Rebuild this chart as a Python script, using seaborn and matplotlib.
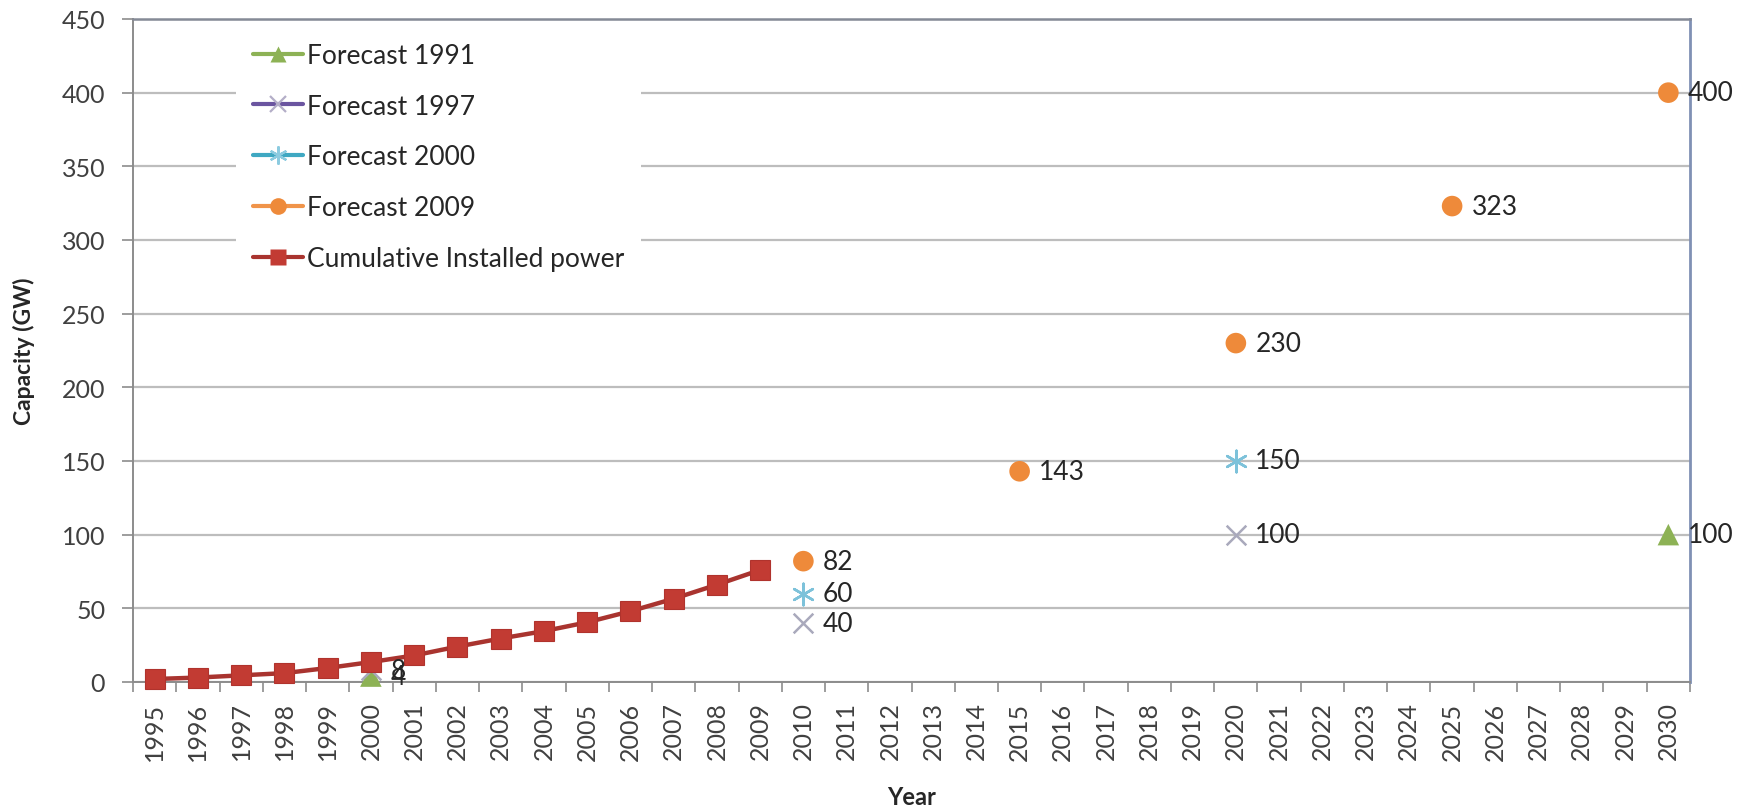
import matplotlib
matplotlib.use("Agg")
import matplotlib.pyplot as plt
from matplotlib.lines import Line2D
from matplotlib.ticker import MultipleLocator
import seaborn as sns
import pandas as pd

# ---- data -------------------------------------------------------------
years_axis = list(range(1995, 2031))

installed_years = list(range(1995, 2010))
installed_gw = [2, 3, 4.5, 6, 9.5, 13.5, 18, 24, 29.5, 34.5, 40.5, 48, 56.5, 66, 76]

f1991_years = [2000, 2030]
f1991_gw = [4, 100]

f1997_years = [2000, 2010, 2020]
f1997_gw = [8, 40, 100]

f2000_years = [2010, 2020]
f2000_gw = [60, 150]

f2009_years = [2010, 2015, 2020, 2025, 2030]
f2009_gw = [82, 143, 230, 323, 400]

series_names = ["Forecast 1991", "Forecast 1997", "Forecast 2000",
                "Forecast 2009", "Cumulative Installed power"]

# ---- style ------------------------------------------------------------
sns.set_theme(style="white")
plt.rcParams["font.family"] = ["Lato", "DejaVu Sans"]
text_col = "#262626"
grid_col = "#BDBDBD"

fig = plt.figure(figsize=(17.41, 8.12), dpi=100)
ax = fig.add_axes([0.0764, 0.1589, 0.8943, 0.8165])

ax.set_xlim(1994.5, 2030.5)
ax.set_ylim(0, 450)
ax.yaxis.set_major_locator(MultipleLocator(50))
ax.grid(axis="y", color=grid_col, lw=1.6, zorder=0)
ax.set_axisbelow(True)

# forecast points (unconnected)
sns.scatterplot(x=f1991_years, y=f1991_gw, marker="^", s=240, color="#8DB255",
                edgecolor="none", ax=ax, zorder=3, legend=False, clip_on=False)
sns.scatterplot(x=f1997_years, y=f1997_gw, marker="x", s=200, color="#A9A9BC",
                linewidth=1.8, ax=ax, zorder=3, legend=False)
sns.scatterplot(x=f2000_years, y=f2000_gw, marker=(6, 2, 0), s=240, color="#7DC2DA",
                linewidth=1.8, ax=ax, zorder=3, legend=False)
sns.scatterplot(x=f2009_years, y=f2009_gw, marker="o", s=220, color="#EE8A3A",
                edgecolor="none", ax=ax, zorder=3, legend=False, clip_on=False)

# installed capacity line
hist = pd.DataFrame({"year": installed_years, "gw": installed_gw})
sns.lineplot(data=hist, x="year", y="gw", color="#A9342F", lw=3.2, ax=ax,
             marker="s", markersize=15, markerfacecolor="#C23B33",
             markeredgecolor="#B0332D", markeredgewidth=0.8, zorder=4,
             clip_on=False)

# data labels beside forecast points
for xs, ys in [(f1991_years, f1991_gw), (f1997_years, f1997_gw),
               (f2000_years, f2000_gw), (f2009_years, f2009_gw)]:
    for x, y in zip(xs, ys):
        ax.annotate(f"{y:g}", (x, y), xytext=(14, 0), textcoords="offset points",
                    ha="left", va="center", fontsize=19, color=text_col,
                    zorder=6, annotation_clip=False)

# axes, ticks
ax.set_xticks(years_axis)
ax.set_xticklabels([str(y) for y in years_axis], rotation=90, fontsize=18,
                   color="#404040")
ax.set_xticks([y + 0.5 for y in [years_axis[0] - 1] + years_axis], minor=True)
ax.tick_params(axis="x", which="major", length=0, pad=14)
ax.tick_params(axis="x", which="minor", length=7, width=1.2, color="#8C8C8C",
               direction="out", bottom=True)
ax.tick_params(axis="y", which="major", length=8, width=1.2, color="#8C8C8C",
               direction="out", left=True, pad=12, labelsize=18, labelcolor="#404040")

for side in ["left", "bottom"]:
    ax.spines[side].set_color("#8C8C8C")
    ax.spines[side].set_linewidth(1.4)
ax.spines["top"].set_color("#858A96")
ax.spines["top"].set_linewidth(1.8)
ax.spines["right"].set_color("#8090B4")
ax.spines["right"].set_linewidth(2.0)

ax.set_xlabel("Year", fontsize=17, fontweight="bold", color=text_col, labelpad=18)
ax.set_ylabel("Capacity (GW)", fontsize=16.5, fontweight="bold", color=text_col,
              labelpad=19)

# legend
handles = [
    Line2D([], [], color="#8DB255", lw=3, marker="^", markersize=12,
           markerfacecolor="#8DB255", markeredgecolor="none"),
    Line2D([], [], color="#6B55A0", lw=3, marker="x", markersize=12,
           markeredgecolor="#B4AEC8", markeredgewidth=1.6),
    Line2D([], [], color="#3FA8C2", lw=3, marker=(6, 2, 0), markersize=13,
           markeredgecolor="#8CCBE0", markeredgewidth=1.6),
    Line2D([], [], color="#F0944A", lw=3, marker="o", markersize=12,
           markerfacecolor="#EE8A3A", markeredgecolor="none"),
    Line2D([], [], color="#A9342F", lw=3, marker="s", markersize=12,
           markerfacecolor="#C23B33", markeredgecolor="none"),
]
leg = ax.legend(handles, series_names, loc="upper left",
                bbox_to_anchor=(0.066, 0.99), frameon=True, fancybox=False,
                facecolor="white", edgecolor="none", framealpha=1,
                fontsize=19, handlelength=1.9, handletextpad=0.15,
                labelspacing=0.98, borderpad=0.65, borderaxespad=0)
for t in leg.get_texts():
    t.set_color(text_col)
leg.set_zorder(5)

fig.savefig("out.png", dpi=100, facecolor="white")
